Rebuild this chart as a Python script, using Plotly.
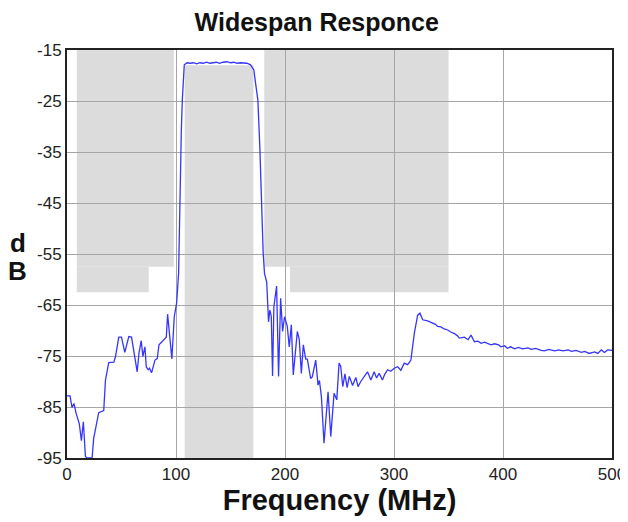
import plotly.graph_objects as go

# Measured response (MHz, dB)
freq = [0, 2.8, 4.6, 6.4, 8.3, 11.3, 13.2, 15, 16.9, 18.4, 23, 24.5, 29.1, 33.7, 35.3, 38.3, 43, 44.5,
        47.5, 50, 53, 56.7, 59.2, 61.3, 62.2, 64.4, 66, 68.1, 69.6, 71.5, 72.7, 74.5, 75.7, 77.6, 80.7,
        82.8, 84.4, 87.4, 91.1, 92.3, 96.2, 98.4, 100.6, 102.4, 103, 104, 104.9, 105.8, 107, 107.6, 110.1,
        113, 116, 119, 122, 125, 128, 131, 134, 137, 140, 143, 146.9, 150, 153, 156, 159, 162, 165, 168.4,
        171.4, 173, 175.1, 176.9, 178.5, 180, 181.2, 183.2, 184.9, 186.1, 187.4, 188.6, 189.8, 192.3, 194.1,
        196, 197.8, 199.6, 202.1, 203.9, 205.8, 207.6, 211.3, 213.1, 215, 216.8, 219, 220.5, 223.5, 225,
        228.2, 230.3, 231.6, 233.4, 235.8, 239.5, 242, 245, 247.5, 249.6, 251.1, 253, 255, 257, 259, 262,
        265, 267, 269.5, 272, 275.7, 278.8, 281.8, 284, 286.4, 289.4, 291.5, 294.1, 297, 300.2, 303.3, 306.3,
        309.4, 312.5, 315.5, 318.6, 321.7, 323.8, 326.3, 330.9, 335.5, 338, 340, 343, 346, 349.3, 352, 355.4,
        358, 360, 364.6, 368, 370.7, 373.8, 377, 380, 383, 386.1, 389, 392.2, 396, 398, 401.4, 404, 407,
        410.6, 414, 418, 422.9, 426, 430, 435.1, 438, 442, 447.4, 451, 455, 459.6, 463, 467, 471.9, 475,
        479, 484.1, 487, 490.2, 493, 496, 500]
db = [-82.8, -82.8, -85.1, -84.3, -86.2, -88.3, -91.6, -87.9, -94.7, -95, -95, -91.1, -86.1, -85.7, -79.7,
      -76.3, -76.2, -75.1, -71.3, -71.3, -74.3, -71.2, -71.3, -74.2, -74.8, -78.1, -74.5, -72.0, -75.1,
      -73.2, -77.1, -77.7, -77.4, -78.3, -75.8, -75.5, -72.8, -72.2, -71.3, -66.8, -75.6, -67.3, -64.6,
      -58.7, -50.3, -40.5, -30.7, -24.8, -20.9, -17.9, -17.5, -17.6, -17.5, -17.7, -17.5, -17.6, -17.4,
      -17.6, -17.5, -17.4, -17.6, -17.4, -17.3, -17.5, -17.4, -17.6, -17.5, -17.6, -17.6, -17.9, -18.9,
      -21.5, -24.8, -34.0, -45.7, -54.9, -58.8, -60.5, -68.3, -66.0, -67.2, -78.9, -65.3, -61.3, -79.0,
      -63.7, -70.2, -67.3, -69.2, -73.2, -68.9, -78.7, -70.2, -71.8, -78.4, -72.8, -75.6, -75.6, -79.4,
      -79.1, -75.8, -80.7, -79.8, -83.0, -92.1, -82.0, -90.8, -82.3, -83.6, -76.4, -77.0, -81.0, -78.5,
      -81.2, -79.0, -80.8, -79.2, -81.0, -80.0, -79.2, -78.1, -79.7, -78.1, -79.3, -78.4, -79.7, -78.6,
      -77.7, -78.0, -77.4, -77.1, -77.8, -76.4, -76.7, -75.8, -70.6, -67.0, -66.6, -67.9, -68.1, -68.6,
      -68.8, -69.2, -69.3, -69.7, -69.9, -70.3, -70.6, -71.0, -71.5, -71.3, -71.8, -70.9, -72.2, -72.1,
      -72.5, -72.3, -72.5, -72.8, -72.6, -72.8, -73.2, -73.0, -73.5, -73.2, -73.6, -73.3, -73.6, -73.4,
      -73.7, -73.5, -73.9, -74.0, -73.7, -74.0, -73.8, -74.0, -73.8, -74.1, -73.9, -74.3, -74.1, -74.5,
      -74.2, -74.5, -73.8, -74.3, -73.8, -73.9]

# Specification mask rectangles (MHz, dB)
mask_x0 = [9, 9, 108, 181, 204.5]
mask_x1 = [98, 75, 171, 350, 350]
mask_bottom = [-57.5, -62.5, -95, -57.5, -62.5]
mask_top = [-15, -57.5, -18, -15, -57.5]

x_ticks = [0, 100, 200, 300, 400, 500]
y_ticks = [-15, -25, -35, -45, -55, -65, -75, -85, -95]
y_tick_labels = ["-15", "-25", "-35", "-45", "-55", "-65", "-75", "-85", "-95"]

fig = go.Figure()
fig.add_trace(go.Scatter(x=freq, y=db, mode="lines",
                         line=dict(color="#3535ff", width=1.3), showlegend=False))

for x0, x1, y0, y1 in zip(mask_x0, mask_x1, mask_bottom, mask_top):
    fig.add_shape(type="rect", xref="x", yref="y", x0=x0, x1=x1, y0=y0, y1=y1,
                  fillcolor="#dcdcdc", line=dict(width=0), layer="below")

font = "Liberation Sans, Arial, sans-serif"
fig.update_layout(
    width=620, height=514,
    margin=dict(l=59, r=16, t=42, b=64, autoexpand=False),
    paper_bgcolor="white", plot_bgcolor="white",
    title=dict(text="<b>Widespan Responce</b>", x=0.498, xanchor="center", y=0.972, yanchor="middle",
               yref="container", automargin=False,
               font=dict(family=font, size=25, color="#111")),
    font=dict(family=font, size=17, color="#222"),
    xaxis=dict(range=[0, 500], tickvals=x_ticks, showgrid=True, gridcolor="#a6a6a6", gridwidth=1,
               showline=True, linecolor="#222", linewidth=2, mirror=True, zeroline=False,
               ticks="", tickfont=dict(size=17), automargin=False,
               title=dict(text="<b>Frequency (MHz)</b>", font=dict(size=29, color="#111"), standoff=0)),
    yaxis=dict(range=[-95, -15], tickvals=y_ticks, ticktext=y_tick_labels, showgrid=True,
               gridcolor="#a6a6a6", gridwidth=1, automargin=False,
               showline=True, linecolor="#222", linewidth=2, mirror=True, zeroline=False,
               ticks="", tickfont=dict(size=17)),
)
fig.add_annotation(text="<b>d</b>", xref="paper", yref="paper", x=-0.09, y=0.528,
                   showarrow=False, font=dict(family=font, size=26, color="#111"),
                   xanchor="center", yanchor="middle")
fig.add_annotation(text="<b>B</b>", xref="paper", yref="paper", x=-0.09, y=0.458,
                   showarrow=False, font=dict(family=font, size=26, color="#111"),
                   xanchor="center", yanchor="middle")

fig.write_html("out.html")
